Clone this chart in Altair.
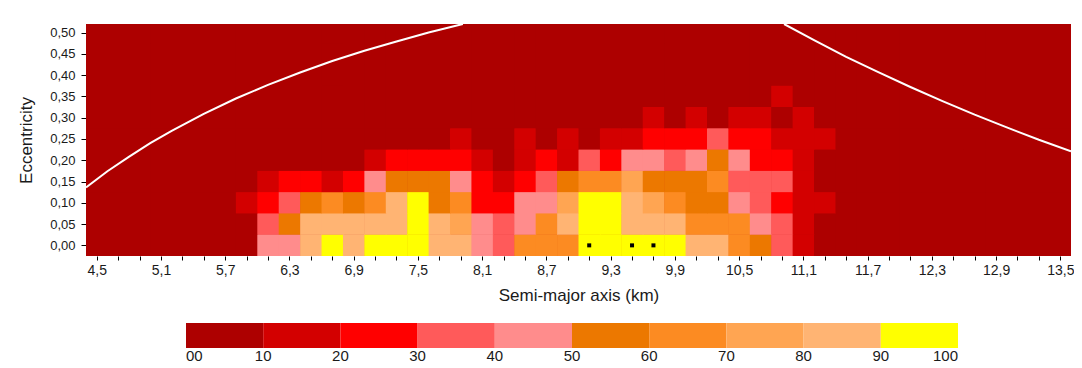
import altair as alt
import pandas as pd

# ---------------- data ----------------
# Eccentricity rows (cell centres) and semi-major-axis column starts (km), cells 0.2 km x 0.05
ecc_values = [0.00, 0.05, 0.10, 0.15, 0.20, 0.25, 0.30, 0.35, 0.40, 0.45, 0.50]
a_starts = [4.4, 4.6, 4.8, 5.0, 5.2, 5.4, 5.6, 5.8, 6.0, 6.2, 6.4, 6.6, 6.8, 7.0, 7.2, 7.4,
            7.6, 7.8, 8.0, 8.2, 8.4, 8.6, 8.8, 9.0, 9.2, 9.4, 9.6, 9.8, 10.0, 10.2, 10.4,
            10.6, 10.8, 11.0, 11.2, 11.4, 11.6, 11.8, 12.0, 12.2, 12.4, 12.6, 12.8, 13.0,
            13.2, 13.4]

# Percentages (bin mid-values) for columns starting at 5.8 km (5.8, 6.0, ... 11.4)
detail_first_a = 5.8
row_e000 = [5, 45, 45, 85, 95, 85, 95, 95, 95, 85, 85, 45, 35, 65, 65, 65, 95, 95, 95, 95, 95, 85, 85, 65, 55, 35, 15, 5, 5]
row_e005 = [5, 35, 55, 85, 85, 85, 85, 85, 95, 85, 75, 45, 35, 45, 65, 85, 95, 95, 85, 85, 85, 65, 65, 65, 45, 35, 15, 5, 5]
row_e010 = [15, 25, 35, 55, 65, 55, 65, 85, 95, 55, 65, 25, 25, 45, 45, 75, 95, 95, 85, 75, 65, 55, 55, 45, 35, 25, 15, 15, 5]
row_e015 = [5, 15, 25, 25, 15, 25, 45, 55, 55, 55, 45, 25, 15, 25, 35, 55, 65, 65, 75, 55, 55, 55, 65, 35, 35, 35, 15, 5, 5]
row_e020 = [5, 5, 5, 5, 5, 5, 15, 25, 25, 25, 25, 15, 5, 15, 25, 15, 35, 25, 45, 45, 35, 45, 55, 45, 25, 25, 15, 5, 5]
row_e025 = [5, 5, 5, 5, 5, 5, 5, 5, 5, 5, 15, 5, 5, 15, 5, 15, 5, 15, 15, 25, 25, 25, 35, 25, 25, 15, 15, 15, 5]
row_e030 = [5, 5, 5, 5, 5, 5, 5, 5, 5, 5, 5, 5, 5, 5, 5, 5, 5, 5, 5, 15, 5, 15, 5, 15, 15, 5, 15, 5, 5]
row_e035 = [5, 5, 5, 5, 5, 5, 5, 5, 5, 5, 5, 5, 5, 5, 5, 5, 5, 5, 5, 5, 5, 5, 5, 5, 5, 15, 5, 5, 5]
detail_rows = [row_e000, row_e005, row_e010, row_e015, row_e020, row_e025, row_e030, row_e035]
background_pct = 5  # every other cell is in the 0-10 class

# White curves
q_curve_a = [4.4, 4.6, 4.8, 5.0, 5.2, 5.5, 5.8, 6.1, 6.4, 6.7, 7.0, 7.3, 7.6, 7.92]
q_curve_e = [0.136, 0.174, 0.208, 0.240, 0.269, 0.309, 0.345, 0.377, 0.406, 0.433, 0.457, 0.479, 0.500, 0.520]
Q_curve_a = [10.92, 11.2, 11.5, 11.8, 12.1, 12.4, 12.7, 13.0, 13.3, 13.6]
Q_curve_e = [0.520, 0.482, 0.443, 0.407, 0.372, 0.339, 0.307, 0.277, 0.248, 0.221]

# Black markers on e = 0
marker_a = [9.1, 9.5, 9.7]
marker_e = [0.0, 0.0, 0.0]

# Colour classes
class_edges = [0, 10, 20, 30, 40, 50, 60, 70, 80, 90, 100]
class_colors = ["#AD0000", "#D30000", "#FF0000", "#FF5A5A", "#FF8C8C",
                "#EC7800", "#FC8B22", "#FFA552", "#FFB473", "#FFFF00"]

x_ticks = [round(4.5 + 0.2 * i, 1) for i in range(46)]
y_ticks = ecc_values

# tiny overlap so neighbouring cells leave no anti-aliasing seams
cell_overlap_a = 0.005
cell_overlap_e = 0.0012

# ---------------- tables ----------------
recs = []
for r, e in enumerate(ecc_values):
    row = detail_rows[r] if r < len(detail_rows) else []
    for a in a_starts:
        idx = round((a - detail_first_a) / 0.2)
        val = row[idx] if 0 <= idx < len(row) else background_pct
        recs.append({"a": a, "a1": a + 0.2 + cell_overlap_a,
                     "e": e - 0.025, "e1": e + 0.025 + cell_overlap_e, "pct": val})
grid = pd.DataFrame(recs)

curves = pd.DataFrame(
    [{"a": a, "e": e, "curve": "q"} for a, e in zip(q_curve_a, q_curve_e)]
    + [{"a": a, "e": e, "curve": "Q"} for a, e in zip(Q_curve_a, Q_curve_e)]
)
markers = pd.DataFrame({"a": marker_a, "e": marker_e})

FONT = "Liberation Sans"
TXT = "#1a1a1a"
xscale = alt.Scale(domain=[4.4, 13.6], nice=False, zero=False)
yscale = alt.Scale(domain=[-0.025, 0.52], nice=False, zero=False)
cscale = alt.Scale(type="quantize", domain=[0, 100], range=class_colors, nice=False, zero=False)

x_label_expr = ("abs((datum.value - 4.5) / 0.6 - round((datum.value - 4.5) / 0.6)) < 0.01 ? "
                "replace(format(datum.value, '.1f'), '.', ',') : ''")

x_axis = alt.Axis(values=x_ticks, labelExpr=x_label_expr, labelOverlap=False,
                  labelFlush=False, tickSize=4, tickColor="#000", domain=False,
                  grid=False, labelFontSize=14, labelPadding=3, labelColor=TXT,
                  labelFont=FONT, titleFont=FONT, titleFontSize=17,
                  titleFontWeight="normal", titleColor=TXT, titlePadding=10)
y_axis = alt.Axis(values=y_ticks, labelExpr="replace(format(datum.value, '.2f'), '.', ',')",
                  labelOverlap=False, labelFlush=False, tickSize=5, tickColor="#000",
                  domain=False, grid=False, labelFontSize=13, labelPadding=6,
                  labelColor=TXT, labelFont=FONT, titleFont=FONT, titleFontSize=17,
                  titleFontWeight="normal", titleColor=TXT, titlePadding=14)

X = alt.X("a:Q", scale=xscale, title="Semi-major axis (km)", axis=x_axis)
Y = alt.Y("e:Q", scale=yscale, title="Eccentricity", axis=y_axis)

# base field in the 0-10 class behind the cells
base = alt.Chart(grid).transform_aggregate(
    a="min(a)", a1="max(a1)", e="min(e)", e1="max(e1)"
).mark_rect(clip=True, color=class_colors[0]).encode(x=X, x2="a1:Q", y=Y, y2="e1:Q")

heat = alt.Chart(grid).mark_rect(clip=True).encode(
    x=X,
    x2="a1:Q",
    y=Y,
    y2="e1:Q",
    color=alt.Color("pct:Q", scale=cscale,
                    legend=alt.Legend(type="gradient", orient="none", direction="horizontal",
                                      legendX=100, legendY=299, gradientLength=772,
                                      gradientThickness=25, title=None, labelFontSize=15,
                                      labelFont=FONT, labelColor=TXT, labelOffset=1,
                                      labelAlign="center", gradientStrokeWidth=0,
                                      labelOverlap=False, padding=0, values=class_edges,
                                      labelExpr="datum.value == 0 ? '00' : datum.label")),
)

lines = alt.Chart(curves).mark_line(color="white", strokeWidth=2, clip=True).encode(
    x=X, y=Y, detail="curve:N", order="a:Q",
)

dots = alt.Chart(markers).mark_square(size=16, color="black", opacity=1).encode(x=X, y=Y)

chart = alt.layer(base, heat, lines, dots).properties(
    width=985, height=232,
    autosize=alt.AutoSizeParams(type="none"),
    padding={"left": 78, "top": 16, "right": 3, "bottom": 110},
    background="white",
).configure_view(stroke=None)

chart.save("out.html", embed_options={"renderer": "svg", "actions": False})
